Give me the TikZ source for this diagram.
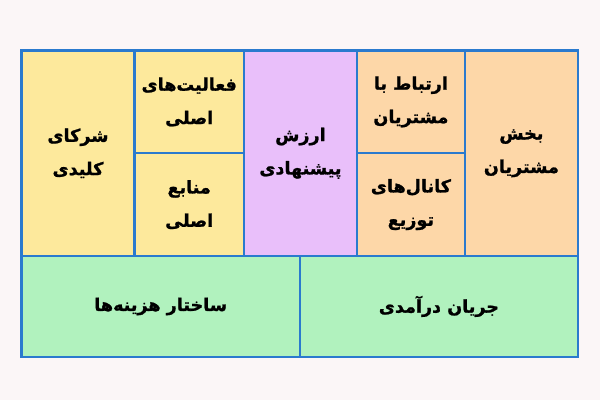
\documentclass[tikz,border=0pt]{standalone}
\usepackage{fontspec}
\usepackage{tikz}
\usetikzlibrary{positioning}
\TeXXeTstate=1
\newfontfamily\farsifont[Script=Arabic, BoldFeatures={FakeBold=1.2}]{DejaVu Sans}
\newcommand{\fatext}[1]{\beginR #1\endR}
\definecolor{pagebg}{RGB}{251,246,247}
\definecolor{edgeblue}{RGB}{42,122,206}
\definecolor{cellyellow}{RGB}{253,233,156}
\definecolor{cellpurple}{RGB}{233,191,250}
\definecolor{cellorange}{RGB}{253,215,168}
\definecolor{cellgreen}{RGB}{177,242,190}

\begin{document}
\begin{tikzpicture}[x=0.02cm, y=-0.02cm,
    cell/.style={rectangle, draw=edgeblue, line width=1.2pt, inner sep=0pt, outer sep=0pt, align=center, font=\farsifont\bfseries\fontsize{10}{19}\selectfont}]

    \fill[pagebg] (0,0) rectangle (600,400);

    % top row
    \node[cell, fill=cellyellow, anchor=north west, minimum width=2.26cm, minimum height=4.11cm] (partners) at (21.5,50.5) {\fatext{شرکای}\\\fatext{کلیدی}};
    \node[cell, fill=cellyellow, anchor=north west, minimum width=2.19cm, minimum height=2.055cm] (activities) at (partners.north east) {\fatext{فعالیت‌های}\\\fatext{اصلی}};
    \node[cell, fill=cellyellow, minimum width=2.19cm, minimum height=2.055cm, below=0pt of activities] (resources) {\fatext{منابع}\\\fatext{اصلی}};
    \node[cell, fill=cellpurple, anchor=north west, minimum width=2.26cm, minimum height=4.11cm] (value) at (activities.north east) {\fatext{ارزش}\\\fatext{پیشنهادی}};
    \node[cell, fill=cellorange, anchor=north west, minimum width=2.16cm, minimum height=2.055cm] (relations) at (value.north east) {\fatext{ارتباط با}\\\fatext{مشتریان}};
    \node[cell, fill=cellorange, minimum width=2.16cm, minimum height=2.055cm, below=0pt of relations] (channels) {\fatext{کانال‌های}\\\fatext{توزیع}};
    \node[cell, fill=cellorange, anchor=north west, minimum width=2.26cm, minimum height=4.11cm] (segments) at (relations.north east) {\fatext{بخش}\\\fatext{مشتریان}};

    % bottom row
    \node[cell, fill=cellgreen, anchor=north west, minimum width=5.57cm, minimum height=2.02cm] (costs) at (partners.south west) {\fatext{ساختار هزینه‌ها}};
    \node[cell, fill=cellgreen, anchor=north west, minimum width=5.56cm, minimum height=2.02cm] (revenue) at (costs.north east) {\fatext{جریان درآمدی}};
\end{tikzpicture}
\end{document}
